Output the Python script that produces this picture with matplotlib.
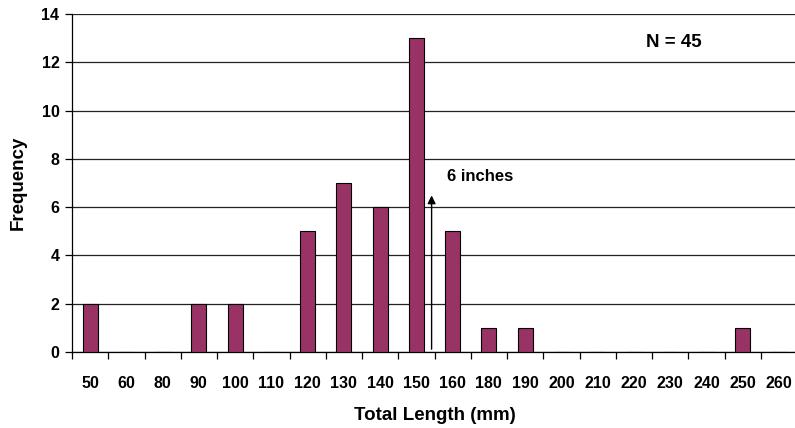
import matplotlib
matplotlib.use("Agg")
import numpy as np
from matplotlib import pyplot as plt

# total length bins (mm) - note 70 and 170 are not in the source chart
lengths = ["50", "60", "80", "90", "100", "110", "120", "130", "140", "150",
           "160", "180", "190", "200", "210", "220", "230", "240", "250", "260"]
freq = [2, 0, 0, 2, 2, 0, 5, 7, 6, 13, 5, 1, 1, 0, 0, 0, 0, 0, 1, 0]
yticks = [0, 2, 4, 6, 8, 10, 12, 14]

plt.rcParams['font.family'] = ['Liberation Sans', 'DejaVu Sans']
plt.rcParams['font.weight'] = 'bold'

fig = plt.figure(figsize=(7.95, 4.28), dpi=100)
ax = fig.add_axes([72/795, 1-352/428, 725/795, 338/428])

x = np.arange(len(lengths))
ax.bar(x, freq, width=0.41, color="#993366", edgecolor="black", linewidth=0.8, zorder=3)

ax.set_xlim(-0.5, len(lengths)-0.5)
ax.set_ylim(0, 14)
ax.set_yticks(yticks)
ax.yaxis.grid(True, color="#222222", linewidth=0.9, zorder=0)
ax.set_axisbelow(True)

# labels at the centres, tick marks at the bin boundaries
ax.set_xticks(x)
ax.set_xticklabels(lengths, fontsize=11.5, fontweight='bold')
ax.set_xticks(np.arange(-0.5, len(lengths)), minor=True)
ax.tick_params(axis='x', which='major', length=0, pad=17)
ax.tick_params(axis='x', which='minor', length=5, direction='out', width=0.9)
ax.tick_params(axis='y', length=5, width=0.9, pad=4, labelsize=11.5)
for lb in ax.get_yticklabels():
    lb.set_fontweight('bold')

ax.spines['right'].set_color('none')
ax.spines['top'].set_color('none')
ax.spines['left'].set_linewidth(0.9)
ax.spines['bottom'].set_linewidth(0.9)

ax.set_xlabel("Total Length (mm)", fontsize=13.5, fontweight='bold', labelpad=12)
ax.set_ylabel("Frequency", fontsize=13.5, fontweight='bold')
ax.yaxis.set_label_coords(-0.062, 0.5)

# 6 inch marker
ax.annotate("", xy=(9.42, 6.6), xytext=(9.42, 0),
            arrowprops=dict(arrowstyle='-|>', color='black', lw=1, mutation_scale=12),
            zorder=4)
ax.text(9.85, 7.25, "6 inches", fontsize=12, fontweight='bold', va='center', ha='left')
ax.text(16.1, 12.8, "N = 45", fontsize=13.5, fontweight='bold', va='center', ha='center')

plt.savefig("out.png", dpi=100)
